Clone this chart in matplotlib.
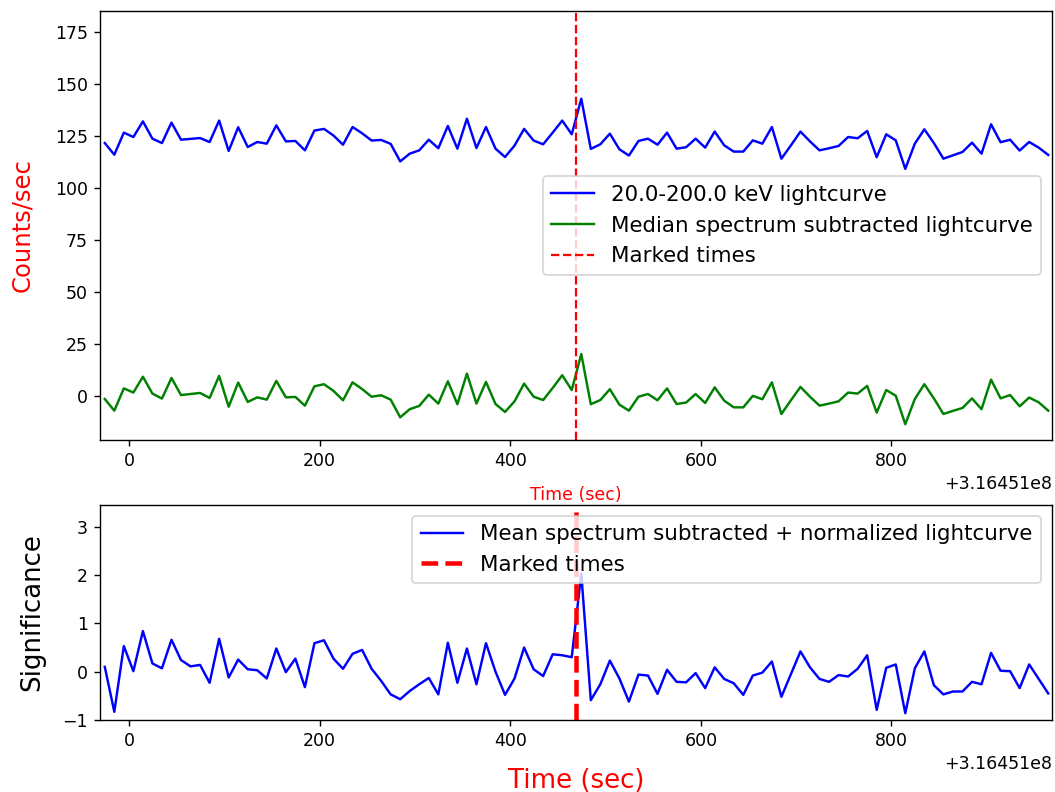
import numpy as np
import matplotlib
matplotlib.use('Agg')
import matplotlib.pyplot as plt

# trigger reference time (seconds, MET)
t_ref = 316451000.0
t_start = -25.5
dt = 10.0
t_marked = 469.0

# 20-200 keV lightcurve (counts/sec)
rate = [121.6, 116.0, 126.6, 124.5, 132.0, 123.7, 121.6, 131.4, 123.2, 123.6,
        124.0, 122.1, 132.4, 117.8, 129.2, 119.7, 122.1, 121.3, 130.1, 122.4,
        122.6, 118.1, 127.6, 128.4, 125.2, 120.8, 129.3, 126.3, 122.8, 123.1,
        121.2, 112.8, 116.5, 118.1, 123.2, 119.1, 129.8, 118.9, 133.3, 119.2,
        129.3, 118.9, 114.9, 120.4, 128.4, 122.8, 121.0, 126.6, 132.4, 125.8,
        142.9, 118.8, 121.0, 126.1, 118.6, 115.6, 122.6, 123.7, 120.8, 126.6,
        118.9, 119.6, 123.7, 119.4, 127.1, 120.5, 117.5, 117.5, 122.9, 121.3,
        129.3, 114.1, 120.5, 127.1, 122.4, 118.1, 119.1, 120.2, 124.5, 123.9,
        127.4, 114.8, 125.8, 122.9, 109.2, 121.3, 128.2, 121.6, 114.1, 115.7,
        117.3, 121.8, 116.5, 130.6, 122.0, 123.2, 118.0, 122.1, 119.4, 115.9]

# median spectrum subtracted lightcurve
sub = [-1.3, -6.9, 3.8, 1.8, 9.4, 1.3, -1.1, 8.8, 0.6, 1.1,
       1.6, -0.8, 9.8, -5.0, 6.6, -2.7, -0.5, -1.6, 7.4, -0.5,
       -0.3, -4.5, 4.8, 5.8, 2.6, -1.9, 6.7, 3.5, -0.2, 0.5,
       -1.6, -10.1, -6.2, -4.6, 0.8, -3.5, 7.2, -3.8, 10.9, -3.5,
       6.9, -3.7, -7.5, -2.4, 6.1, -0.2, -1.8, 4.0, 10.1, 3.0,
       20.3, -3.8, -1.8, 3.4, -4.0, -6.9, -0.2, 1.1, -1.9, 3.8,
       -3.7, -3.0, 1.1, -3.2, 4.3, -2.1, -5.3, -5.3, 0.2, -1.4,
       6.7, -8.5, -1.9, 4.5, -0.2, -4.5, -3.5, -2.4, 1.8, 1.3,
       5.0, -7.8, 3.0, 0.3, -13.4, -1.3, 5.8, -1.0, -8.5, -7.0,
       -5.6, -1.0, -6.2, 8.0, -1.0, 0.6, -4.8, -0.6, -2.9, -6.9]

# mean spectrum subtracted + normalized lightcurve (significance)
sig = [0.10, -0.83, 0.53, 0.01, 0.84, 0.17, 0.07, 0.66, 0.24, 0.11,
       0.14, -0.23, 0.68, -0.12, 0.25, 0.05, 0.03, -0.14, 0.48, -0.01,
       0.27, -0.32, 0.59, 0.65, 0.27, 0.06, 0.37, 0.45, 0.06, -0.19,
       -0.47, -0.57, -0.40, -0.26, -0.13, -0.47, 0.60, -0.23, 0.48, -0.26,
       0.59, 0.00, -0.48, -0.14, 0.50, 0.05, -0.09, 0.36, 0.34, 0.30,
       2.03, -0.59, -0.26, 0.23, -0.14, -0.62, -0.06, -0.08, -0.46, 0.04,
       -0.21, -0.22, -0.03, -0.34, 0.09, -0.15, -0.24, -0.48, -0.08, -0.02,
       0.21, -0.52, -0.05, 0.42, 0.09, -0.15, -0.21, -0.07, -0.10, 0.06,
       0.34, -0.79, 0.08, 0.15, -0.86, 0.07, 0.42, -0.28, -0.47, -0.41,
       -0.41, -0.21, -0.26, 0.39, 0.02, 0.01, -0.34, 0.15, -0.15, -0.45]

t = t_ref + t_start + dt * np.arange(len(rate))
xlim = (t_ref + t_start - dt / 2, t[-1] + dt / 2 - 1)

fig = plt.figure(figsize=(8.44, 6.336), dpi=125)
ax1 = fig.add_axes([0.0948, 0.4444, 0.9024, 0.5417])
ax2 = fig.add_axes([0.0948, 0.0909, 0.9024, 0.2715])

# top: raw and subtracted lightcurves
ax1.plot(t, rate, color='b', lw=1.4, label='20.0-200.0 keV lightcurve')
ax1.plot(t, sub, color='g', lw=1.4, label='Median spectrum subtracted lightcurve')
ax1.axvline(t_ref + t_marked, color='r', ls='--', lw=1.3, label='Marked times')
ax1.set_xlim(xlim)
ax1.set_ylim(-21, 185)
ax1.set_yticks(np.arange(0, 176, 25))
ax1.set_xticks(t_ref + np.arange(0, 801, 200))
ax1.ticklabel_format(axis='x', useOffset=t_ref)
ax1.set_ylabel('Counts/sec', color='r', fontsize=14, labelpad=12)
ax1.set_xlabel('Time (sec)', color='r', fontsize=10, labelpad=9)
ax1.legend(loc='center right', fontsize=12.3)

# bottom: significance
ax2.plot(t, sig, color='b', lw=1.4,
         label='Mean spectrum subtracted + normalized lightcurve')
ax2.axvline(t_ref + t_marked, color='r', ls='--', lw=2.6, label='Marked times')
ax2.set_xlim(xlim)
ax2.set_ylim(-1, 3.45)
ax2.set_yticks([-1, 0, 1, 2, 3])
ax2.set_xticks(t_ref + np.arange(0, 801, 200))
ax2.ticklabel_format(axis='x', useOffset=t_ref)
ax2.set_ylabel('Significance', fontsize=15, labelpad=10)
ax2.set_xlabel('Time (sec)', color='r', fontsize=15, labelpad=10)
ax2.legend(loc='upper right', fontsize=12.3)

fig.savefig('out.png', dpi=125)
